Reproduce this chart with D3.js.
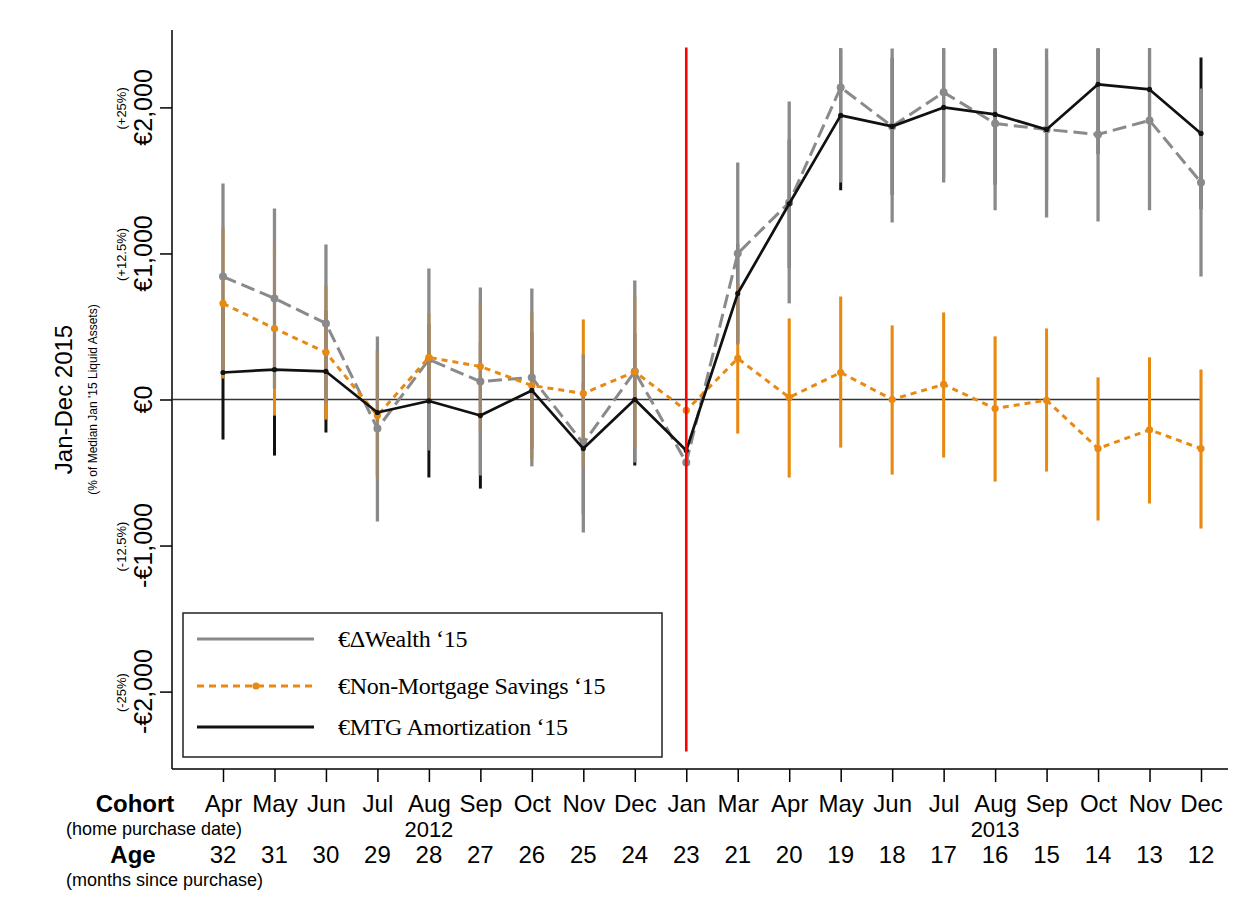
<!DOCTYPE html>
<html>
<head>
<meta charset="utf-8">
<script src="https://cdn.jsdelivr.net/npm/d3@7"></script>
<style>
  html, body { margin: 0; padding: 0; background: #fff; }
  svg { display: block; }
  .sans { font-family: Arial, "Liberation Sans", Helvetica, sans-serif; }
  .serif { font-family: "Times New Roman", "Liberation Serif", serif; }
</style>
</head>
<body>
<svg id="chart" width="1254" height="899"></svg>
<script>
// Cohorts (home purchase month) and their age in months at Jan 2015
const cohorts = ["Apr","May","Jun","Jul","Aug","Sep","Oct","Nov","Dec","Jan",
                 "Mar","Apr","May","Jun","Jul","Aug","Sep","Oct","Nov","Dec"];
const ages = [32,31,30,29,28,27,26,25,24,23,21,20,19,18,17,16,15,14,13,12];
const years = [{label: "2012", at: 4}, {label: "2013", at: 15}];

// Euro change in wealth, Jan-Dec 2015 (point estimate and 95% interval)
const wealth   = [842, 692, 521, -199, 274, 123, 151, -301, 192, -432, 1000, 1349, 2137, 1870, 2103, 1890, 1849, 1815, 1911, 1486];
const wealthLo = [190, 76, -20, -836, -349, -521, -458, -911, -431, -432, 377, 658, 1486, 1212, 1486, 1295, 1247, 1219, 1295, 842];
const wealthHi = [1479, 1308, 1062, 432, 897, 767, 760, 309, 815, -432, 1623, 2041, 2788, 2528, 2720, 2485, 2451, 2411, 2527, 2130];

// Non-mortgage savings
const savings   = [658, 486, 322, -110, 288, 226, 96, 41, 190, -75, 281, 14, 185, 0, 103, -62, -5, -336, -207, -336];
const savingsLo = [144, -110, -137, -540, -12, -224, -404, -466, -332, -75, -233, -534, -329, -514, -397, -562, -493, -828, -712, -884];
const savingsHi = [1178, 1075, 781, 320, 588, 676, 596, 548, 712, -75, 795, 555, 705, 507, 596, 432, 486, 151, 288, 205];

// Mortgage amortization
const amort   = [185, 205, 192, -89, -10, -110, 62, -336, 0, -349, 726, 1340, 1945, 1870, 2000, 1952, 1849, 2158, 2123, 1822];
const amortLo = [-274, -384, -226, -519, -534, -610, -338, -786, -452, -349, 386, 900, 1432, 1400, 1520, 1470, 1370, 1680, 1640, 1302];
const amortHi = [644, 794, 610, 341, 514, 390, 462, 114, 452, -349, 1066, 1780, 2458, 2340, 2480, 2434, 2328, 2636, 2606, 2342];

// Y ticks: euro amount and share of median liquid assets
const yTicks = [-2000, -1000, 0, 1000, 2000];
const yTickLabels = ["-€2,000", "-€1,000", "€0", "€1,000", "€2,000"];
const yTickPct = ["(-25%)", "(-12.5%)", "", "(+12.5%)", "(+25%)"];

const legendLabels = ["€ΔWealth ‘15", "€Non-Mortgage Savings ‘15", "€MTG Amortization ‘15"];

const GRAY = "#8a8a8a", ORANGE = "#e88a12", BLACK = "#111111", RED = "#ff0000";

const svg = d3.select("#chart");

const x = d3.scaleLinear().domain([0, cohorts.length - 1]).range([223, 1201]);
const y = d3.scaleLinear().domain([-2530, 2530]).range([769, 30]);
const clipTop = y(2404), clipBottom = y(-2404);

svg.append("defs").append("clipPath").attr("id", "plotclip")
  .append("rect").attr("x", 172).attr("y", clipTop)
  .attr("width", 1060).attr("height", clipBottom - clipTop);

// ---- Y axis ----
const yAxis = svg.append("g").attr("transform", "translate(172,0)")
  .call(d3.axisLeft(y).tickValues(yTicks).tickSize(12).tickFormat(""));
yAxis.select(".domain").remove();
yAxis.selectAll(".tick line").attr("stroke", "#000").attr("stroke-width", 1.5);
svg.append("line").attr("x1", 172).attr("x2", 172).attr("y1", 30).attr("y2", 769)
  .attr("stroke", "#000").attr("stroke-width", 1.5);

yTicks.forEach((t, i) => {
  svg.append("text").attr("class", "sans")
    .attr("transform", `translate(152,${y(t)}) rotate(-90)`)
    .attr("text-anchor", "middle").attr("font-size", 25).attr("fill", "#000")
    .text(yTickLabels[i]);
  if (yTickPct[i]) {
    svg.append("text").attr("class", "sans")
      .attr("transform", `translate(126,${y(t) + 1}) rotate(-90)`)
      .attr("text-anchor", "middle").attr("font-size", 13).attr("fill", "#000")
      .text(yTickPct[i]);
  }
});

svg.append("text").attr("class", "sans")
  .attr("transform", `translate(72,${y(0)}) rotate(-90)`)
  .attr("text-anchor", "middle").attr("font-size", 24).attr("fill", "#000")
  .text("Jan-Dec 2015");
svg.append("text").attr("class", "sans")
  .attr("transform", `translate(97,${y(0)}) rotate(-90)`)
  .attr("text-anchor", "middle").attr("font-size", 12).attr("fill", "#000")
  .text("(% of Median Jan '15 Liquid Assets)");

// ---- X axis ----
const xAxis = svg.append("g").attr("transform", "translate(0,769)")
  .call(d3.axisBottom(x).tickValues(d3.range(cohorts.length)).tickSize(13)
        .tickPadding(13).tickFormat(i => cohorts[i]));
xAxis.select(".domain").remove();
xAxis.selectAll(".tick line").attr("stroke", "#000").attr("stroke-width", 1.5);
xAxis.selectAll(".tick text").attr("class", "sans").attr("font-size", 24)
  .attr("font-family", "Arial, 'Liberation Sans', sans-serif").attr("fill", "#000");
svg.append("line").attr("x1", 172).attr("x2", 1228).attr("y1", 769).attr("y2", 769)
  .attr("stroke", "#000").attr("stroke-width", 1.5);

svg.selectAll("text.age").data(ages).join("text")
  .attr("class", "age sans").attr("x", (d, i) => x(i)).attr("y", 863)
  .attr("text-anchor", "middle").attr("font-size", 24).attr("fill", "#000")
  .text(d => d);

svg.selectAll("text.year").data(years).join("text")
  .attr("class", "year sans").attr("x", d => x(d.at)).attr("y", 837)
  .attr("text-anchor", "middle").attr("font-size", 22).attr("fill", "#000")
  .text(d => d.label);

svg.append("text").attr("class", "sans").attr("x", 135).attr("y", 812)
  .attr("text-anchor", "middle").attr("font-size", 24).attr("font-weight", "bold").text("Cohort");
svg.append("text").attr("class", "sans").attr("x", 66).attr("y", 835)
  .attr("font-size", 18).text("(home purchase date)");
svg.append("text").attr("class", "sans").attr("x", 133).attr("y", 863)
  .attr("text-anchor", "middle").attr("font-size", 24).attr("font-weight", "bold").text("Age");
svg.append("text").attr("class", "sans").attr("x", 66).attr("y", 886)
  .attr("font-size", 18).text("(months since purchase)");

// ---- Zero reference line ----
svg.append("line").attr("x1", 172).attr("x2", x(cohorts.length - 1))
  .attr("y1", y(0)).attr("y2", y(0)).attr("stroke", "#333").attr("stroke-width", 1.3);

// ---- Data ----
const plot = svg.append("g").attr("clip-path", "url(#plotclip)");

function bars(lo, hi, color, width, opacity) {
  plot.append("g").selectAll("line").data(lo).join("line")
    .attr("x1", (d, i) => x(i)).attr("x2", (d, i) => x(i))
    .attr("y1", (d, i) => y(hi[i])).attr("y2", d => y(d))
    .attr("stroke", color).attr("stroke-width", width).attr("stroke-opacity", opacity);
}
// interval bars: black beneath, gray on top, with a faint orange tint where savings overlap
bars(amortLo, amortHi, BLACK, 3, 1);
bars(savingsLo, savingsHi, ORANGE, 3, 1);
bars(wealthLo, wealthHi, GRAY, 3.3, 1);
bars(savingsLo, savingsHi, ORANGE, 3, 0.22);

const line = d3.line().x((d, i) => x(i)).y(d => y(d));

function series(vals, color, width, dash, r) {
  plot.append("path").datum(vals).attr("d", line)
    .attr("fill", "none").attr("stroke", color).attr("stroke-width", width)
    .attr("stroke-dasharray", dash).attr("stroke-linejoin", "round");
  plot.append("g").selectAll("circle").data(vals).join("circle")
    .attr("cx", (d, i) => x(i)).attr("cy", d => y(d)).attr("r", r).attr("fill", color);
}
series(wealth, GRAY, 3, "14,6", 4);
series(savings, ORANGE, 3, "6,5", 3.6);
series(amort, BLACK, 2.7, null, 2.6);

// Vertical marker at the Jan cohort
svg.append("line").attr("x1", x(9)).attr("x2", x(9))
  .attr("y1", clipTop - 1).attr("y2", clipBottom + 1)
  .attr("stroke", RED).attr("stroke-width", 2.6);

// ---- Legend ----
const lg = svg.append("g");
lg.append("rect").attr("x", 183).attr("y", 613).attr("width", 479).attr("height", 144)
  .attr("fill", "#fff").attr("stroke", "#222").attr("stroke-width", 1.5);
const rows = [
  {y: 639, color: GRAY, dash: null, dot: false},
  {y: 686, color: ORANGE, dash: "7,5", dot: true},
  {y: 727, color: BLACK, dash: null, dot: false}
];
rows.forEach((r, i) => {
  lg.append("line").attr("x1", 197).attr("x2", 314).attr("y1", r.y).attr("y2", r.y)
    .attr("stroke", r.color).attr("stroke-width", 3).attr("stroke-dasharray", r.dash);
  if (r.dot) lg.append("circle").attr("cx", 256).attr("cy", r.y).attr("r", 3.6).attr("fill", r.color);
  lg.append("text").attr("class", "serif").attr("x", 338).attr("y", r.y + 8)
    .attr("font-size", 24).attr("letter-spacing", "-0.3").attr("fill", "#000")
    .text(legendLabels[i]);
});
</script>
</body>
</html>
